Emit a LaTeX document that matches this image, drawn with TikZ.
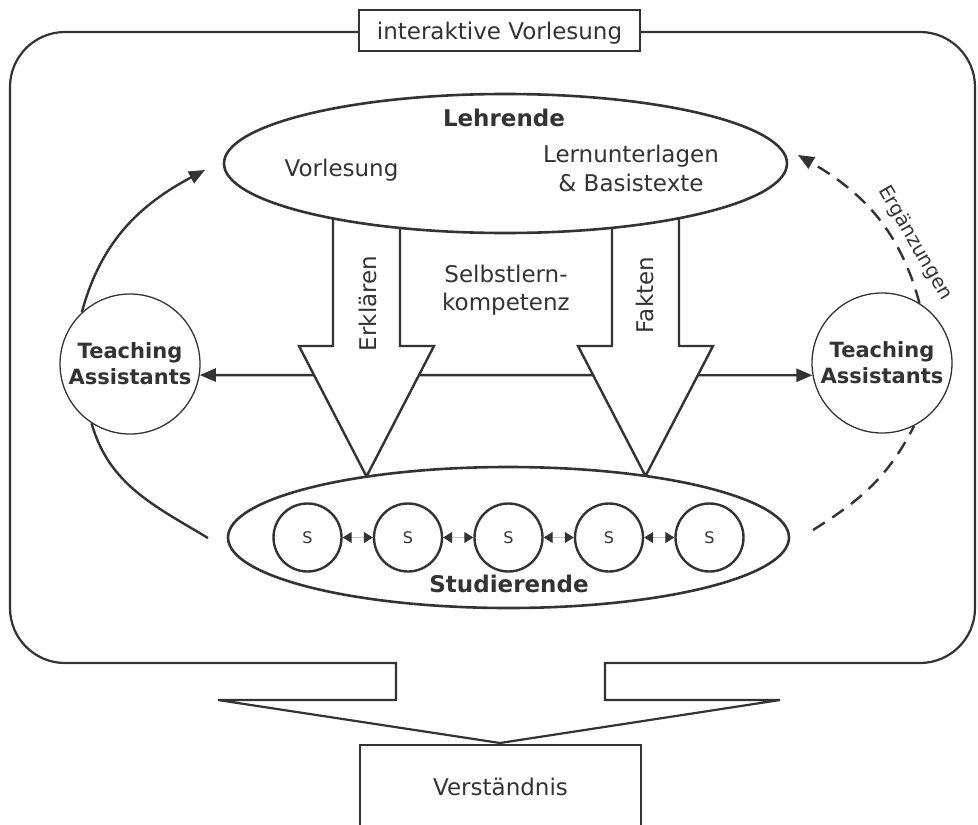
\documentclass[tikz,border=0pt]{standalone}
\usepackage{fontspec}
\setmainfont{DejaVu Sans}
\usetikzlibrary{arrows.meta,shapes.geometric}
\definecolor{dk}{HTML}{333333}
\begin{document}
\begin{tikzpicture}[x=1pt,y=1pt,line join=miter,
  every node/.style={text=dk},
  frame/.style={draw=dk,line width=2.2pt},
  main/.style={draw=dk,line width=2.5pt},
  txt/.style={font=\fontsize{23}{28}\selectfont,inner sep=0pt},
  boldtxt/.style={font=\bfseries\fontsize{23}{28}\selectfont,inner sep=0pt},
  tip/.style={-{Triangle[length=16pt,width=13pt]}},
  tacircle/.style={circle,draw=dk,line width=1.3pt,fill=white,minimum size=140pt,
    inner sep=0pt,align=center,font=\bfseries\fontsize{21}{26}\selectfont},
  scircle/.style={circle,draw=dk,line width=2.4pt,fill=white,minimum size=68pt,
    inner sep=0pt,font=\fontsize{16}{19}\selectfont},
  bigarrow/.style={draw=dk,line width=2.4pt,fill=white},
  bigell/.style={ellipse,draw=dk,line width=2.6pt,fill=white,inner sep=0pt},
  sarrow/.style={draw=gray!50,line width=1pt,
    {Triangle[length=9pt,width=11pt,color=dk]}-{Triangle[length=9pt,width=11pt,color=dk]}},
  dashline/.style={draw=dk,line width=2.4pt,dash pattern=on 14pt off 9pt}
]
\clip (0,0) rectangle (978,-825);

% outer frame with big arrow at the bottom
\draw[frame] (396,-700) -- (396,-663) -- (65,-663)
  arc[start angle=270,end angle=180,radius=55pt] -- (10,-87)
  arc[start angle=180,end angle=90,radius=55pt] -- (920,-32)
  arc[start angle=90,end angle=0,radius=55pt] -- (975,-608)
  arc[start angle=0,end angle=-90,radius=55pt] -- (605,-663)
  -- (605,-700) -- (780,-700) -- (500,-743) -- (218,-700) -- cycle;

% title box
\node[frame,fill=white,minimum width=281pt,minimum height=41pt,inner sep=0pt] (vlbox) at (499.5,-30.5) {};
\node[txt,anchor=base] (vltext) at (499.5,-39) {interaktive Vorlesung};

% result box
\node[frame,minimum width=281pt,minimum height=120pt,anchor=north,inner sep=0pt] (vbox) at (500.5,-744) {};
\node[txt,anchor=base] (vtext) at (500.5,-795) {Verständnis};

% teaching assistants
\node[tacircle] (taL) at (130,-364) {Teaching\\Assistants};
\node[tacircle] (taR) at (882,-363) {Teaching\\Assistants};

% horizontal connector (behind the big arrows)
\draw[main,line width=2.4pt,{Triangle[length=16pt,width=13pt]}-{Triangle[length=16pt,width=13pt]}] (taL.-9) -- (taR.190);

% big arrows
\draw[bigarrow] (333,-200) -- (333,-346) -- (299,-346) -- (366.5,-476.5) -- (434,-346) -- (400,-346) -- (400,-200) -- cycle;
\draw[bigarrow] (612,-200) -- (612,-346) -- (578,-346) -- (645.5,-476) -- (713,-346) -- (679,-346) -- (679,-200) -- cycle;

% ellipses
\node[bigell,minimum width=563pt,minimum height=139pt] (lehr) at (505.5,-163.5) {};
\node[bigell,minimum width=561pt,minimum height=141pt] (stud) at (508.5,-537.5) {};

% texts in Lehrende ellipse
\node[boldtxt,anchor=base] (lehrT) at (504,-126) {Lehrende};
\node[txt,anchor=base] (vorl) at (341.5,-176) {Vorlesung};
\node[txt,anchor=base] (lern1) at (631,-162) {Lernunterlagen};
\node[txt,anchor=base] (lern2) at (631,-191) {\& Basistexte};

% texts between arrows
\node[txt,anchor=base] (selbst1) at (506,-282) {Selbstlern-};
\node[txt,anchor=base] (selbst2) at (506,-310) {kompetenz};
\node[txt,rotate=90] (erkl) at (367.5,-303.5) {Erklären};
\node[txt,rotate=90] (fakt) at (645,-295) {Fakten};

% students
\node[scircle] (s1) at (307.5,-537.5) {S};
\node[scircle] (s2) at (408,-537.5) {S};
\node[scircle] (s3) at (508.5,-537.5) {S};
\node[scircle] (s4) at (609,-537.5) {S};
\node[scircle] (s5) at (709.5,-537.5) {S};
\draw[sarrow] (s1) -- (s2);
\draw[sarrow] (s2) -- (s3);
\draw[sarrow] (s3) -- (s4);
\draw[sarrow] (s4) -- (s5);
\node[boldtxt,anchor=base] (studT) at (509,-592) {Studierende};

% left cycle
\coordinate (arcTip) at (205,-170);
\coordinate (arcEnd) at (208,-538);
\draw[main,line width=2.4pt,tip] (taL.133) to[out=75,in=208] (arcTip);
\draw[main,line width=2.4pt] (taL.237) to[out=-74,in=149] (arcEnd);

% right dashed cycle
\coordinate (dashStart) at (813,-530);
\coordinate (dashTip) at (798,-155);
\draw[dashline] (dashStart) to[out=32,in=243] (taR.-63);
\draw[dashline,tip] (taR.58) to[out=105,in=-30] (dashTip);
\node[font=\fontsize{19.5}{23}\selectfont,inner sep=0pt,rotate=-60] (ergT) at (915,-243) {Ergänzungen};
\end{tikzpicture}
\end{document}
